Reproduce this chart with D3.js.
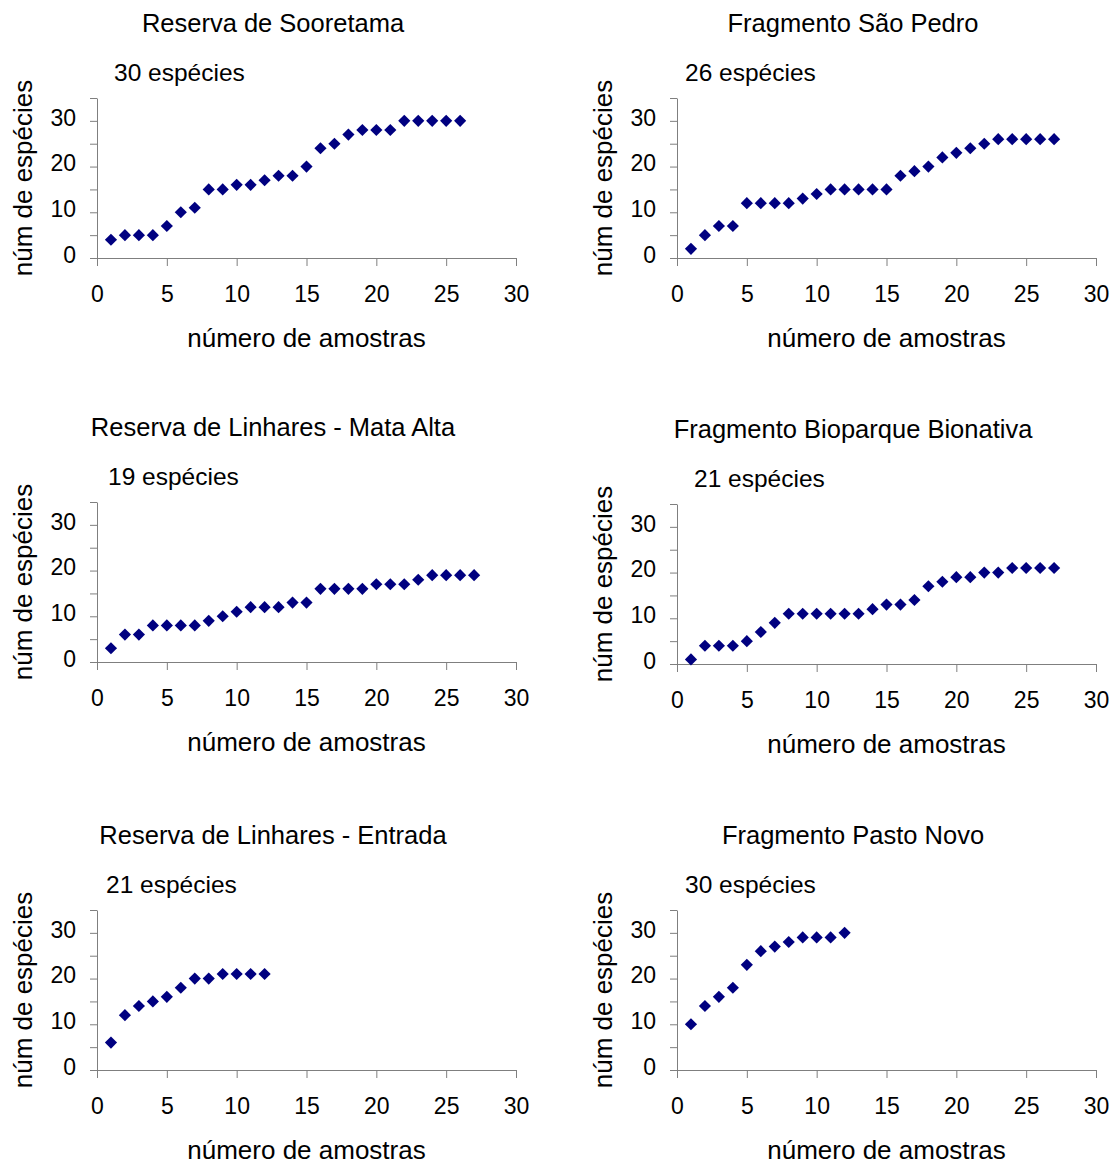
<!DOCTYPE html>
<html>
<head>
<meta charset="utf-8">
<script src="https://cdn.jsdelivr.net/npm/d3@7"></script>
<style>
  body { margin: 0; background: #fff; }
  svg { font-family: "Liberation Sans", Arial, sans-serif; }
</style>
</head>
<body>
<svg id="curvas" width="1115" height="1164"></svg>
<script>
// Títulos e totais de cada curva do coletor.
var titulos = [
    "Reserva de Sooretama",
    "Fragmento São Pedro",
    "Reserva de Linhares - Mata Alta",
    "Fragmento Bioparque Bionativa",
    "Reserva de Linhares - Entrada",
    "Fragmento Pasto Novo"
];
var totais = ["30 espécies", "26 espécies", "19 espécies", "21 espécies", "21 espécies", "30 espécies"];

// Número acumulado de espécies por amostra.
var sooretama = [4, 5, 5, 5, 7, 10, 11, 15, 15, 16, 16, 17, 18, 18, 20, 24, 25, 27, 28, 28, 28, 30, 30, 30, 30, 30];
var saoPedro = [2, 5, 7, 7, 12, 12, 12, 12, 13, 14, 15, 15, 15, 15, 15, 18, 19, 20, 22, 23, 24, 25, 26, 26, 26, 26, 26];
var mataAlta = [3, 6, 6, 8, 8, 8, 8, 9, 10, 11, 12, 12, 12, 13, 13, 16, 16, 16, 16, 17, 17, 17, 18, 19, 19, 19, 19];
var bioparque = [1, 4, 4, 4, 5, 7, 9, 11, 11, 11, 11, 11, 11, 12, 13, 13, 14, 17, 18, 19, 19, 20, 20, 21, 21, 21, 21];
var entrada = [6, 12, 14, 15, 16, 18, 20, 20, 21, 21, 21, 21];
var pastoNovo = [10, 14, 16, 18, 23, 26, 27, 28, 29, 29, 29, 30];

var series = [sooretama, saoPedro, mataAlta, bioparque, entrada, pastoNovo];

// Marcas dos eixos.
var xTicks = [0, 5, 10, 15, 20, 25, 30];
var yTicks = [0, 5, 10, 15, 20, 25, 30, 35];
var yRotulos = [0, 10, 20, 30];

var svg = d3.select("#curvas"),
    largura = 419,
    altura = 160,
    origens = [[97, 258], [677, 258], [97, 662], [677, 664], [97, 1070], [677, 1070]],
    deslocTotal = [17, 8, 11, 17, 9, 8];

var x = d3.scaleLinear().domain([0, 30]).range([0, largura]),
    y = d3.scaleLinear().domain([0, 35]).range([altura, 0]),
    losango = d3.symbol().type(d3.symbolSquare).size(74);

function estiloEixo(sel) {
    sel.attr("font-family", null).attr("font-size", 23);
    sel.selectAll("path, line").attr("stroke", "#7f7f7f");
    sel.selectAll("text").attr("fill", "#000");
}

series.forEach(function (dados, i) {
    var g = svg.append("g")
        .attr("transform", "translate(" + origens[i][0] + "," + (origens[i][1] - altura) + ")");

    g.append("g")
        .attr("transform", "translate(0," + altura + ")")
        .call(d3.axisBottom(x).tickValues(xTicks).tickSize(8).tickSizeOuter(0).tickPadding(20))
        .call(estiloEixo);

    g.append("g")
        .call(d3.axisLeft(y).tickValues(yTicks).tickSize(7).tickSizeOuter(0).tickPadding(14)
            .tickFormat(function (d) { return yRotulos.indexOf(d) >= 0 ? d : ""; }))
        .call(estiloEixo)
        .selectAll("text").attr("dy", "0.19em");

    g.selectAll(".ponto")
        .data(dados)
        .enter()
        .append("path")
        .attr("class", "ponto")
        .attr("d", losango)
        .attr("fill", "#000080")
        .attr("transform", function (d, j) {
            return "translate(" + x(j + 1) + "," + y(d) + ") rotate(45)";
        });

    g.append("text")
        .attr("x", 176)
        .attr("y", -66)
        .attr("text-anchor", "middle")
        .attr("font-size", 25.5)
        .text(titulos[i]);

    g.append("text")
        .attr("x", deslocTotal[i])
        .attr("y", -17)
        .attr("font-size", 24.5)
        .text(totais[i]);

    g.append("text")
        .attr("x", largura / 2)
        .attr("y", altura + 89)
        .attr("text-anchor", "middle")
        .attr("font-size", 26)
        .text("número de amostras");

    g.append("text")
        .attr("transform", "translate(-65.5," + (altura / 2) + ") rotate(-90)")
        .attr("text-anchor", "middle")
        .attr("font-size", 26)
        .text("núm de espécies");
});
</script>
</body>
</html>
